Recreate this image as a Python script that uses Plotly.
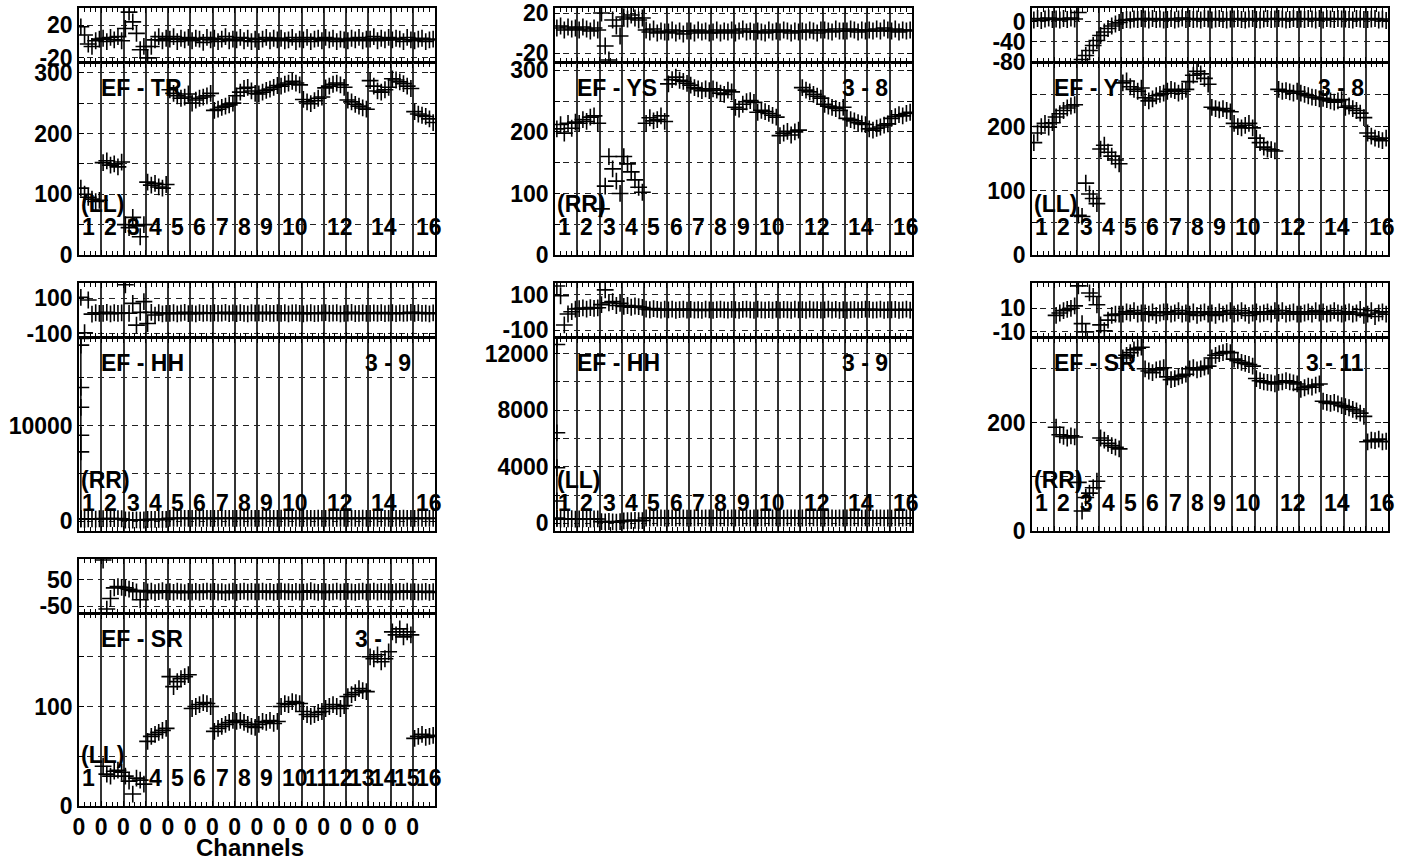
import plotly.graph_objects as go

W, H = 1411, 862
N_SEG = 16
N_CH = 6  # plotted channels per IF segment

# ---------------- data ----------------
# Amplitude and phase per baseline, 16 IF segments x 6 channels each
amp_tr_ll = [110, 100, 95, 92, 88, 90,  152, 155, 148, 150, 145, 153,  50, 45, 62, 48, 30, 50,
             120, 115, 118, 112, 110, 116,  272, 266, 262, 258, 260, 265,  250, 255, 258, 260, 262, 266,
             238, 240, 243, 245, 247, 250,  262, 268, 274, 276, 270, 266,  265, 268, 271, 273, 276, 279,
             278, 281, 283, 286, 283, 280,  256, 252, 249, 254, 258, 260,  275, 278, 281, 283, 280, 276,
             255, 252, 248, 245, 242, 240,  287, 278, 270, 268, 272, 276,  290, 288, 285, 282, 278, 274,
             236, 232, 230, 228, 224, 218]
ph_tr_ll = [18, 8, -3, -6, 1, 3,  4, 0, 5, 2, 6, 1,  16, 36, 24, 10, -10, -6,  -20, -6, 2, 6, 1, 4,
            3, 6, 0, 4, 2, 5,  1, 4, 3, -1, 5, 2,  4, 0, 3, 6, 1, 3,  2, 5, 1, 4, 0, 3,
            0, 3, 5, 1, 4, 2,  4, 1, 2, 5, 0, 3,  2, 5, 0, 3, 4, 1,  5, 2, 4, 0, 3, 2,
            1, 4, 2, 5, 1, 3,  3, 6, 1, 4, 2, 5,  2, 4, 3, 0, 5, 2,  1, 3, 4, 0, 2, 3]

amp_ys_rr = [205, 212, 198, 214, 206, 216,  214, 220, 217, 224, 226, 214,  75, 112, 160, 140, 120, 100,
             160, 148, 135, 122, 110, 102,  214, 223, 218, 220, 226, 217,  278, 285, 289, 284, 282, 279,
             276, 272, 270, 267, 270, 267,  270, 268, 263, 261, 268, 265,  240, 237, 245, 249, 251, 248,
             232, 235, 233, 230, 227, 224,  194, 198, 201, 195, 200, 203,  272, 268, 265, 261, 258, 255,
             245, 242, 240, 238, 235, 240,  222, 220, 218, 215, 213, 212,  205, 203, 206, 208, 211, 213,
             222, 225, 228, 226, 230, 232]
ph_ys_rr = [5, 7, 3, 6, 4, 5,  3, 6, 4, 2, 5, 3,  20, -13, -27, 13, 7, -3,  16, 14, 18, 15, 13, 15,
            3, 1, 4, 0, 2, 1,  1, 3, 0, 2, -1, 2,  2, 0, 3, 1, 2, 0,  1, 3, 0, 2, 1, 3,
            0, 2, 4, 1, 2, 1,  2, 1, 0, 3, 1, 2,  1, 3, 2, 0, 2, 1,  2, 1, 3, 2, 0, 3,
            3, 2, 1, 4, 2, 2,  2, 4, 3, 1, 3, 2,  3, 2, 4, 2, 5, 3,  2, 4, 1, 3, 2, 3]

amp_y_ll = [175, 190, 200, 205, 199, 206,  215, 220, 225, 229, 232, 234,  62, 60, 112, 95, 88, 80,
            165, 171, 160, 154, 148, 142,  268, 271, 262, 258, 255, 260,  245, 240, 243, 248, 250, 252,
            255, 258, 256, 252, 255, 258,  270, 280, 286, 282, 275, 266,  230, 228, 226, 228, 225, 223,
            205, 200, 198, 202, 205, 198,  182, 175, 168, 165, 164, 162,  258, 255, 256, 254, 252, 255,
            252, 250, 248, 246, 245, 243,  244, 242, 240, 238, 240, 242,  230, 232, 228, 225, 221, 214,
            190, 185, 182, 180, 178, 182]
ph_y_ll = [3, 6, 2, 5, 7, 4,  5, 3, 6, 4, 7, 5,  18, -76, -68, -58, -48, -38,  -28, -21, -14, -9, -5, -2,
           2, 4, 3, 5, 4, 6,  5, 3, 6, 4, 5, 3,  4, 6, 3, 5, 7, 4,  6, 4, 5, 3, 6, 5,
           3, 5, 6, 4, 3, 5,  5, 6, 4, 3, 5, 6,  4, 3, 5, 6, 4, 5,  6, 5, 3, 4, 6, 4,
           5, 4, 6, 5, 3, 6,  3, 6, 5, 4, 6, 5,  5, 4, 3, 6, 5, 4,  4, 5, 6, 3, 5, 2]

amp_hh_rr = [250, 200, 240, 230, 220, 250,  260, 250, 270, 255, 265, 250,  120, 130, 110, 125, 115, 120,
             170, 180, 175, 185, 178, 182,  290, 280, 300, 285, 295, 280,  285, 295, 280, 300, 290, 285,
             280, 290, 300, 285, 295, 290,  295, 285, 290, 300, 280, 295,  290, 300, 285, 295, 280, 290,
             300, 290, 285, 295, 290, 300,  285, 280, 295, 290, 300, 285,  290, 300, 280, 295, 285, 290,
             280, 295, 290, 285, 300, 290,  295, 285, 300, 290, 280, 295,  290, 280, 295, 300, 285, 290,
             285, 300, 290, 280, 295, 285]
amp_hh_rr_spike = [19100, 18400, 13970, 11900, 8970, 7240, 250]
ph_hh_rr = [105, -95, 90, 10, 18, 14,  15, 20, 12, 18, 14, 17,  176, 15, 71, -52, 20, 81,  -43, 20, 5, 18, 12, 15,
            14, 18, 12, 16, 20, 13,  16, 12, 19, 14, 17, 15,  18, 14, 16, 20, 13, 17,  13, 19, 15, 12, 18, 16,
            17, 13, 20, 15, 14, 18,  15, 18, 12, 17, 19, 14,  12, 16, 18, 13, 15, 17,  19, 14, 16, 18, 12, 15,
            16, 20, 13, 15, 17, 14,  14, 17, 15, 19, 13, 16,  18, 13, 17, 14, 16, 20,  15, 19, 14, 16, 12, 17]

amp_hh_ll = [350, 300, 320, 310, 330, 300,  320, 310, 330, 300, 320, 310,  120, 100, 130, 110, 90, 120,
             180, 200, 190, 210, 195, 200,  380, 370, 390, 375, 385, 370,  375, 385, 370, 390, 380, 375,
             370, 380, 390, 375, 385, 380,  385, 375, 380, 390, 370, 385,  380, 390, 375, 385, 370, 380,
             390, 380, 375, 385, 380, 390,  375, 370, 385, 380, 390, 375,  380, 390, 370, 385, 375, 380,
             370, 385, 380, 375, 390, 380,  385, 375, 390, 380, 370, 385,  380, 370, 385, 390, 375, 380,
             375, 390, 380, 370, 385, 375]
amp_hh_ll_spike = [13100, 12640, 6400, 3930, 1580, 350]
ph_hh_ll = [150, 95, -70, -8, 5, 20,  22, 26, 20, 28, 24, 27,  45, 128, 55, 62, 40, 52,  35, 40, 30, 37, 33, 29,
            20, 16, 22, 18, 14, 19,  15, 19, 13, 17, 20, 14,  18, 14, 16, 12, 19, 15,  13, 17, 19, 15, 14, 18,
            16, 12, 18, 20, 15, 13,  19, 15, 14, 17, 13, 18,  14, 18, 16, 13, 19, 15,  17, 13, 19, 15, 16, 14,
            15, 19, 14, 18, 12, 17,  13, 16, 18, 14, 17, 19,  18, 14, 15, 19, 13, 16,  16, 18, 13, 15, 19, 14]

amp_sr_rr = [None, None, None, None, None, None,  192, 178, 175, 172, 176, 174,  90, 37, 62, 70, 80, 92,
             172, 168, 162, 158, 155, 152,  320, 325, 330, 335, 338, 340,  300, 296, 293, 298, 300, 302,
             285, 280, 282, 285, 288, 290,  300, 302, 298, 300, 303, 305,  320, 325, 328, 330, 332, 330,
             318, 315, 312, 310, 308, 305,  282, 278, 276, 275, 274, 272,  275, 276, 278, 276, 274, 272,
             262, 265, 268, 266, 270, 272,  240, 238, 236, 238, 235, 232,  230, 228, 225, 222, 218, 212,
             165, 168, 167, 170, 165, 166]
ph_sr_rr = [None, None, None, None, None, None,  4, 6, 8, 9, 10, 12,  29, -3, -10, 23, 20, 13,  -4, -9, 0, 4, 5, 5,
            5, 7, 6, 8, 5, 6,  6, 5, 7, 4, 6, 7,  7, 5, 6, 8, 5, 6,  5, 7, 4, 6, 7, 5,
            6, 4, 7, 5, 6, 8,  5, 6, 8, 6, 4, 6,  7, 5, 6, 7, 5, 8,  6, 8, 5, 6, 7, 5,
            5, 6, 7, 5, 8, 6,  7, 5, 6, 8, 6, 5,  6, 7, 5, 6, 9, 4,  5, 8, 3, 6, 7, 5]

amp_sr_ll = [None, None, None, None, None, None,  40, 32, 30, 35, 36, 34,  30, 25, 12, 28, 26, 22,
             65, 70, 72, 74, 76, 78,  130, 120, 125, 128, 130, 132,  98, 100, 102, 104, 103, 100,
             75, 78, 80, 82, 84, 86,  85, 86, 84, 82, 80, 79,  82, 85, 84, 86, 83, 85,
             100, 103, 102, 105, 104, 103,  95, 92, 90, 92, 94, 95,  98, 100, 102, 100, 98, 101,
             110, 112, 114, 118, 116, 115,  150, 148, 152, 145, 148, 155,  175, 172, 178, 170, 175, 172,
             68, 70, 72, 69, 70, 71]
ph_sr_ll = [None, None, None, None, None, None,  125, -60, -20, 20, 25, 22,  20, 15, 10, 5, -25, 10,  5, 8, 2, 6, 9, 4,
            6, 3, 8, 5, 2, 7,  4, 7, 3, 6, 8, 5,  7, 4, 6, 2, 5, 8,  3, 6, 8, 4, 7, 5,
            5, 8, 4, 7, 3, 6,  8, 5, 6, 3, 7, 4,  4, 6, 9, 5, 3, 7,  6, 3, 5, 8, 4, 6,
            7, 5, 3, 6, 8, 4,  5, 8, 4, 7, 5, 6,  3, 6, 7, 4, 8, 5,  6, 4, 5, 7, 3, 6]

seg_labels_std = ["1", "2", "3", "4", "5", "6", "7", "8", "9", "10", None, "12", None, "14", None, "16"]
seg_labels_last = ["1", None, None, "4", "5", "6", "7", "8", "9", "10", "11", "12", "13", "14", "15", "16"]
x_tick_text = ["0"] * 16

# ---------------- layout geometry (page pixels) ----------------
COL_X = [(79, 435), (555, 912), (1032, 1388)]
ROW_Y = [(8, 62, 63, 255), (283, 337, 338, 531), (559, 613, 614, 806)]

panels = [
    dict(amp=amp_tr_ll, ph=ph_tr_ll, col=0, row=0, ph_range=[-25, 41], ph_ticks=[-20, 20],
         amp_range=[0, 316], amp_ticks=[0, 100, 200, 300], amp_minor=50,
         base="EF - TR", pair=None, corr="(LL)", labels=seg_labels_std, spike=None),
    dict(amp=amp_ys_rr, ph=ph_ys_rr, col=1, row=0, ph_range=[-29, 25], ph_ticks=[-20, 20],
         amp_range=[0, 312], amp_ticks=[0, 100, 200, 300], amp_minor=50,
         base="EF - YS", pair="3 - 8", corr="(RR)", labels=seg_labels_std, spike=None),
    dict(amp=amp_y_ll, ph=ph_y_ll, col=2, row=0, ph_range=[-81, 27], ph_ticks=[-80, -40, 0],
         amp_range=[0, 299], amp_ticks=[0, 100, 200], amp_minor=50,
         base="EF - Y", pair="3 - 8", corr="(LL)", labels=seg_labels_std, spike=None),
    dict(amp=amp_hh_rr, ph=ph_hh_rr, col=0, row=1, ph_range=[-119, 186], ph_ticks=[-100, 100],
         amp_range=[-1030, 19140], amp_ticks=[0, 10000], amp_minor=5000,
         base="EF - HH", pair="3 - 9", corr="(RR)", labels=seg_labels_std, spike=amp_hh_rr_spike),
    dict(amp=amp_hh_ll, ph=ph_hh_ll, col=1, row=1, ph_range=[-138, 167], ph_ticks=[-100, 100],
         amp_range=[-540, 13100], amp_ticks=[0, 4000, 8000, 12000], amp_minor=2000,
         base="EF - HH", pair="3 - 9", corr="(LL)", labels=seg_labels_std, spike=amp_hh_ll_spike),
    dict(amp=amp_sr_rr, ph=ph_sr_rr, col=2, row=1, ph_range=[-14.3, 31.4], ph_ticks=[-10, 10],
         amp_range=[0, 357], amp_ticks=[0, 200], amp_minor=100,
         base="EF - SR", pair="3 - 11", corr="(RR)", labels=seg_labels_std, spike=None),
    dict(amp=amp_sr_ll, ph=ph_sr_ll, col=0, row=2, ph_range=[-75, 129], ph_ticks=[-50, 50],
         amp_range=[0, 193], amp_ticks=[0, 100], amp_minor=50,
         base="EF - SR", pair=None, corr="(LL)", labels=seg_labels_last, spike=None, last=True),
]

FONT = "Liberation Sans, Arial, sans-serif"
FS = 23
GRID_DASH = "3px,5.15px,3px,0px"
GRID_COL = "#222"
VGRID_COL = "#333"

fig = go.Figure()
layout = dict(width=W, height=H, margin=dict(l=0, r=0, t=0, b=0, pad=0, autoexpand=False),
              paper_bgcolor="white", plot_bgcolor="white", showlegend=False)
annotations = []

xs = [k + (j + 0.5) / N_CH for k in range(N_SEG) for j in range(N_CH)]
marker = dict(symbol="cross-thin", size=12, color="#000", line=dict(width=1.6, color="#000"))


def px_x(p):
    return p / W


def px_y(p):
    return 1 - p / H


def xaxis_cfg(dom, show_labels=False):
    cfg = dict(domain=dom, range=[0, 16], showline=True, linecolor="black", linewidth=1.5,
               mirror="ticks", ticks="inside", ticklen=5, tickcolor="black", tickwidth=1,
               tickmode="array", tickvals=list(range(16)), showgrid=True, gridcolor=VGRID_COL,
               gridwidth=1.6, zeroline=False, showticklabels=show_labels, automargin=False,
               ticklabeloverflow="allow",
               minor=dict(tickmode="linear", tick0=0, dtick=0.25, ticks="inside", ticklen=4,
                          tickcolor="black", showgrid=False))
    if show_labels:
        cfg.update(ticktext=x_tick_text, tickfont=dict(family=FONT, size=FS, color="black", weight="bold"))
    return cfg


def yaxis_cfg(dom, rng, ticks, minor=None):
    cfg = dict(domain=dom, range=rng, showline=True, linecolor="black", linewidth=1.5,
               mirror="ticks", ticks="inside", ticklen=5, tickcolor="black",
               tickmode="array", tickvals=ticks, ticktext=[str(t) for t in ticks],
               showgrid=True, griddash=GRID_DASH, gridcolor=GRID_COL, gridwidth=1.2,
               zeroline=False, automargin=False, ticklabeloverflow="allow",
               tickfont=dict(family=FONT, size=FS, color="black", weight="bold"))
    if minor:
        cfg["minor"] = dict(tickmode="linear", tick0=0, dtick=minor, ticks="inside", ticklen=5,
                            tickcolor="black", showgrid=True, griddash=GRID_DASH,
                            gridcolor=GRID_COL, gridwidth=1.2)
    return cfg


for i, p in enumerate(panels):
    ia, ib = 2 * i + 1, 2 * i + 2  # phase axes, amplitude axes
    x0, x1 = COL_X[p["col"]]
    pt, pb, at, ab = ROW_Y[p["row"]]
    xdom = [px_x(x0), px_x(x1)]
    ph_dom = [px_y(pb), px_y(pt)]
    amp_dom = [px_y(ab), px_y(at)]
    last = p.get("last", False)

    layout[f"xaxis{ia}"] = xaxis_cfg(xdom)
    layout[f"xaxis{ia}"]["anchor"] = f"y{ia}"
    layout[f"yaxis{ia}"] = yaxis_cfg(ph_dom, p["ph_range"], p["ph_ticks"])
    layout[f"yaxis{ia}"]["anchor"] = f"x{ia}"
    layout[f"xaxis{ib}"] = xaxis_cfg(xdom, show_labels=last)
    layout[f"xaxis{ib}"]["anchor"] = f"y{ib}"
    layout[f"yaxis{ib}"] = yaxis_cfg(amp_dom, p["amp_range"], p["amp_ticks"], p["amp_minor"])
    layout[f"yaxis{ib}"]["anchor"] = f"x{ib}"

    xa, ya = ("x" if ia == 1 else f"x{ia}"), ("y" if ia == 1 else f"y{ia}")
    xb, yb = f"x{ib}", f"y{ib}"

    fig.add_trace(go.Scatter(x=xs, y=p["ph"], mode="markers", marker=marker,
                             xaxis=xa, yaxis=ya, hoverinfo="skip"))
    fig.add_trace(go.Scatter(x=xs, y=p["amp"], mode="markers", marker=marker,
                             xaxis=xb, yaxis=yb, hoverinfo="skip"))
    if p["spike"] is not None:
        fig.add_trace(go.Scatter(x=[xs[0]] * len(p["spike"]), y=p["spike"], mode="lines+markers",
                                 marker=marker, line=dict(color="#000", width=1.5),
                                 xaxis=xb, yaxis=yb, hoverinfo="skip"))

    tfont = dict(family=FONT, size=FS, color="black", weight="bold")
    annotations.append(dict(text=p["base"], x=1.0, y=0.87, xref=xb, yref=f"{yb} domain",
                            xanchor="left", yanchor="middle", showarrow=False, font=tfont, xshift=-2))
    if p["pair"]:
        annotations.append(dict(text=p["pair"], x=15.0, y=0.87, xref=xb, yref=f"{yb} domain",
                                xanchor="right", yanchor="middle", showarrow=False, font=tfont))
    if last:
        annotations.append(dict(text="3 -", x=12.3, y=0.87, xref=xb, yref=f"{yb} domain",
                                xanchor="left", yanchor="middle", showarrow=False, font=tfont))
    annotations.append(dict(text=p["corr"], x=0.02, y=0.265, xref=xb, yref=f"{yb} domain",
                            xanchor="left", yanchor="middle", showarrow=False, font=tfont))
    for k, lab in enumerate(p["labels"]):
        if lab is None:
            continue
        annotations.append(dict(text=lab, x=k + 0.05, y=0.145, xref=xb, yref=f"{yb} domain",
                                xanchor="left", yanchor="middle", showarrow=False, font=tfont))

annotations.append(dict(text="Channels", x=px_x(250), y=px_y(847), xref="paper", yref="paper",
                        xanchor="center", yanchor="middle", showarrow=False,
                        font=dict(family=FONT, size=24, color="black", weight="bold")))
layout["annotations"] = annotations
fig.update_layout(**layout)
fig.write_html("out.html", config={"displayModeBar": False},
               post_script="document.body.style.margin='0';document.body.style.overflow='hidden';")
